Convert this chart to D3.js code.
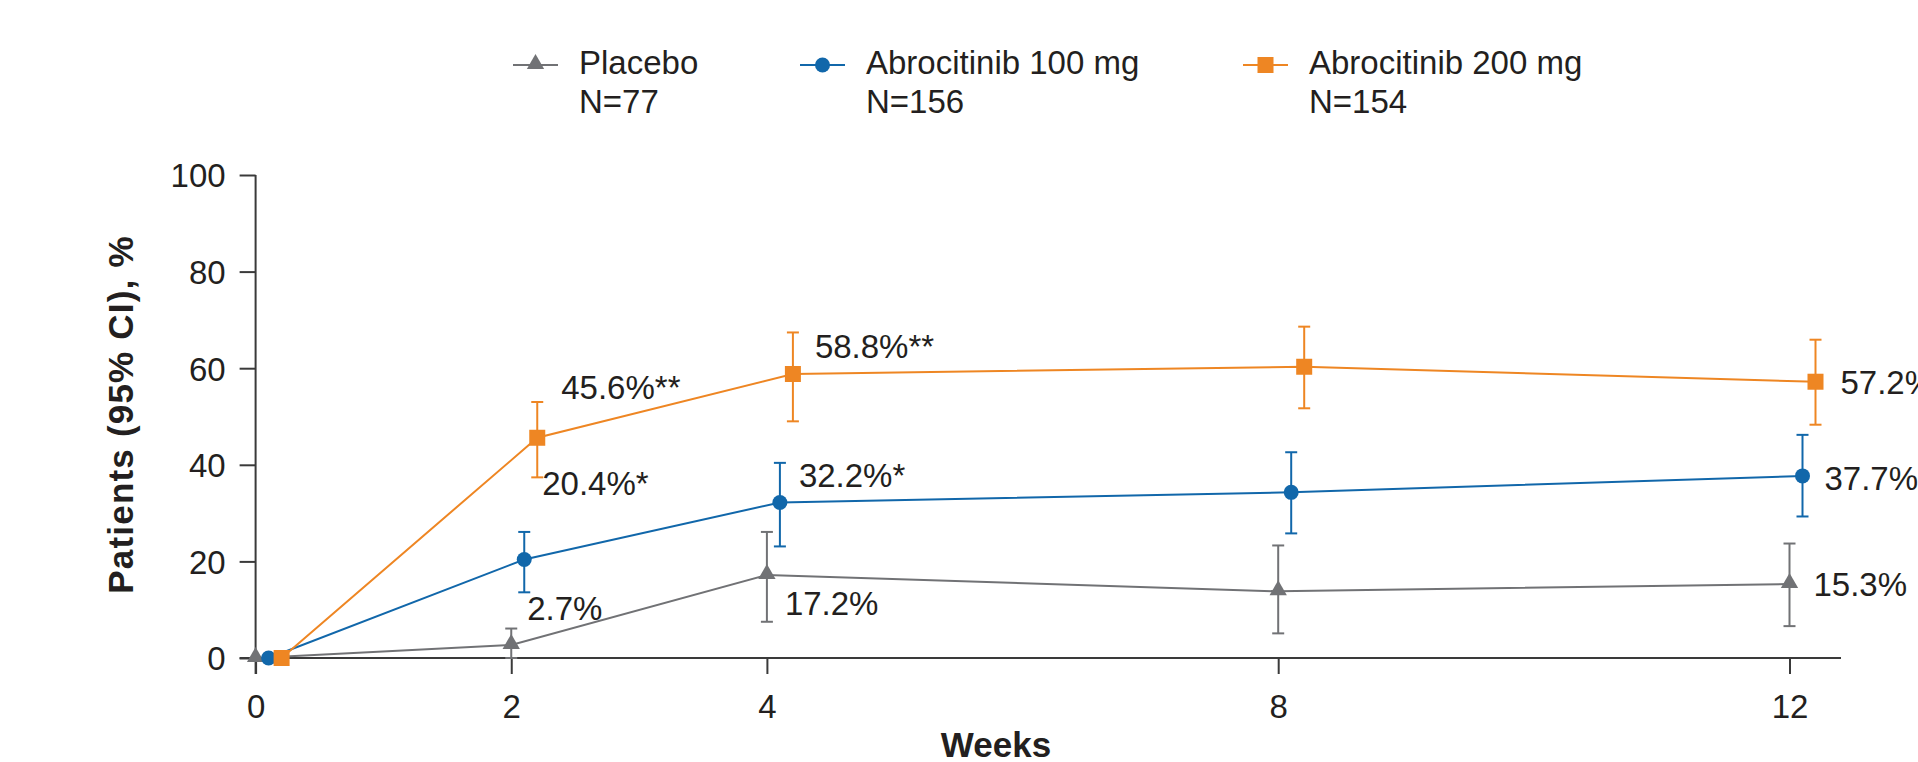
<!DOCTYPE html>
<html>
<head>
<meta charset="utf-8">
<script src="https://cdn.jsdelivr.net/npm/d3@7"></script>
<style>
  html, body { margin: 0; padding: 0; background: #fff; overflow: hidden; }
  svg { display: block; font-family: "Liberation Sans", Arial, Helvetica, sans-serif; }
</style>
</head>
<body>
<svg id="chart" width="1918" height="762"></svg>
<script>
// Visit schedule (weeks)
const weeks = [0, 2, 4, 8, 12];
const yTicks = [0, 20, 40, 60, 80, 100];

// Response rates (%) with 95% CI bounds
const placeboPct = [0, 2.7, 17.2, 13.8, 15.3];
const placeboLo  = [0, 0, 7.5, 5.1, 6.6];
const placeboHi  = [0, 6.1, 26.1, 23.3, 23.7];

const abro100Pct = [0, 20.4, 32.2, 34.3, 37.7];
const abro100Lo  = [0, 13.6, 23.1, 25.8, 29.3];
const abro100Hi  = [0, 26.1, 40.4, 42.6, 46.2];

const abro200Pct = [0, 45.6, 58.8, 60.3, 57.2];
const abro200Lo  = [0, 37.4, 49.0, 51.7, 48.3];
const abro200Hi  = [0, 53.0, 67.4, 68.6, 65.9];

// Value annotations (with significance markers)
const placeboLabels = [null, "2.7%", "17.2%", null, "15.3%"];
const abro100Labels = [null, "20.4%*", "32.2%*", null, "37.7%"];
const abro200Labels = [null, "45.6%**", "58.8%**", null, "57.2%"];

// Legend text
const seriesNames = ["Placebo", "Abrocitinib 100 mg", "Abrocitinib 200 mg"];
const seriesN = ["N=77", "N=156", "N=154"];

const textColor = "#231f20";
const axisColor = "#3a3a3a";

const series = [
  { name: seriesNames[0], n: seriesN[0], pct: placeboPct, lo: placeboLo, hi: placeboHi, labels: placeboLabels,
    color: "#717275", marker: "triangle", shift: 0, legendX: 513,
    labelOffsets: [null, [16, -25], [18, 40], null, [24, 12]] },
  { name: seriesNames[1], n: seriesN[1], pct: abro100Pct, lo: abro100Lo, hi: abro100Hi, labels: abro100Labels,
    color: "#1167aa", marker: "circle", shift: 13, legendX: 800,
    labelOffsets: [null, [18, -64], [19, -15], null, [22, 14]] },
  { name: seriesNames[2], n: seriesN[2], pct: abro200Pct, lo: abro200Lo, hi: abro200Hi, labels: abro200Labels,
    color: "#ee8623", marker: "square", shift: 26, legendX: 1243,
    labelOffsets: [null, [24, -39], [22, -16], null, [25, 12]] }
];

const svg = d3.select("#chart");

const x = d3.scaleLinear().domain([0, 12]).range([255.6, 1789.5]);
const y = d3.scaleLinear().domain([0, 100]).range([658, 175]);

// ---- Axes ----
const yAxis = d3.axisLeft(y).tickValues(yTicks).tickSize(16).tickSizeOuter(0).tickPadding(14);
const gy = svg.append("g").attr("transform", `translate(${x(0)},0)`).call(yAxis);
gy.select(".domain").remove();
gy.selectAll(".tick line").attr("stroke", axisColor).attr("stroke-width", 2);
gy.selectAll(".tick text").attr("fill", textColor).attr("font-size", 33)
  .attr("font-family", "'Liberation Sans', Arial, sans-serif").attr("dy", "0.36em");

const xAxis = d3.axisBottom(x).tickValues(weeks).tickSize(16).tickSizeOuter(0).tickPadding(21);
const gx = svg.append("g").attr("transform", `translate(0,${y(0)})`).call(xAxis);
gx.select(".domain").remove();
gx.selectAll(".tick line").attr("stroke", axisColor).attr("stroke-width", 2);
gx.selectAll(".tick text").attr("fill", textColor).attr("font-size", 33)
  .attr("font-family", "'Liberation Sans', Arial, sans-serif");

// axis baselines
svg.append("line").attr("x1", x(0)).attr("x2", x(0)).attr("y1", y(100)).attr("y2", y(0) + 16)
  .attr("stroke", axisColor).attr("stroke-width", 2);
svg.append("line").attr("x1", x(0) - 16).attr("x2", 1841).attr("y1", y(0)).attr("y2", y(0))
  .attr("stroke", axisColor).attr("stroke-width", 2);

// axis titles
svg.append("text")
  .attr("transform", `translate(133,${(y(0) + y(100)) / 2 - 2}) rotate(-90)`)
  .attr("text-anchor", "middle").attr("font-size", 35).attr("font-weight", "bold")
  .attr("letter-spacing", "1.2px").attr("fill", textColor)
  .text("Patients (95% CI), %");

svg.append("text")
  .attr("x", 996).attr("y", 757).attr("text-anchor", "middle")
  .attr("font-size", 35).attr("font-weight", "bold").attr("fill", textColor)
  .text("Weeks");

// ---- Markers ----
function drawMarker(g, type, color, cx, cy, scale) {
  const s = scale || 1;
  if (type === "circle") {
    g.append("circle").attr("cx", cx).attr("cy", cy).attr("r", 7.5 * s).attr("fill", color);
  } else if (type === "square") {
    const h = 8 * s;
    g.append("rect").attr("x", cx - h).attr("y", cy - h).attr("width", 2 * h).attr("height", 2 * h).attr("fill", color);
  } else {
    const sym = d3.symbol().type(d3.symbolTriangle).size(130 * s * s);
    g.append("path").attr("d", sym()).attr("transform", `translate(${cx},${cy - 1})`).attr("fill", color);
  }
}

// ---- Series ----
const plot = svg.append("g");
series.forEach(sr => {
  const g = plot.append("g");
  const pts = weeks.map((w, i) => ({ w, i, v: sr.pct[i], lo: sr.lo[i], hi: sr.hi[i] }));
  const px = d => x(d.w) + sr.shift;

  const line = d3.line().x(px).y(d => y(d.v));
  g.append("path").datum(pts).attr("d", line)
    .attr("fill", "none").attr("stroke", sr.color).attr("stroke-width", 2);

  // CI whiskers
  pts.filter(d => d.hi > d.lo).forEach(d => {
    const cx = px(d);
    g.append("line").attr("x1", cx).attr("x2", cx).attr("y1", y(d.hi)).attr("y2", y(d.lo))
      .attr("stroke", sr.color).attr("stroke-width", 2);
    [d.hi, d.lo].forEach(b => {
      g.append("line").attr("x1", cx - 6).attr("x2", cx + 6).attr("y1", y(b)).attr("y2", y(b))
        .attr("stroke", sr.color).attr("stroke-width", 2);
    });
  });

  pts.forEach(d => drawMarker(g, sr.marker, sr.color, px(d), y(d.v)));
});

// value annotations on top
series.forEach(sr => {
  weeks.forEach((w, i) => {
    if (!sr.labels[i]) return;
    const off = sr.labelOffsets[i];
    svg.append("text")
      .attr("x", x(w) + sr.shift + off[0]).attr("y", y(sr.pct[i]) + off[1])
      .attr("font-size", 33).attr("fill", textColor)
      .text(sr.labels[i]);
  });
});

// ---- Legend ----
const legend = svg.append("g");
series.forEach(sr => {
  const lx = sr.legendX, ly = 65;
  legend.append("line").attr("x1", lx).attr("x2", lx + 45).attr("y1", ly).attr("y2", ly)
    .attr("stroke", sr.color).attr("stroke-width", 2);
  drawMarker(legend, sr.marker, sr.color, lx + 22.5, ly);
  legend.append("text").attr("x", lx + 66).attr("y", 74).attr("font-size", 33).attr("fill", textColor).text(sr.name);
  legend.append("text").attr("x", lx + 66).attr("y", 113).attr("font-size", 33).attr("fill", textColor).text(sr.n);
});
</script>
</body>
</html>
